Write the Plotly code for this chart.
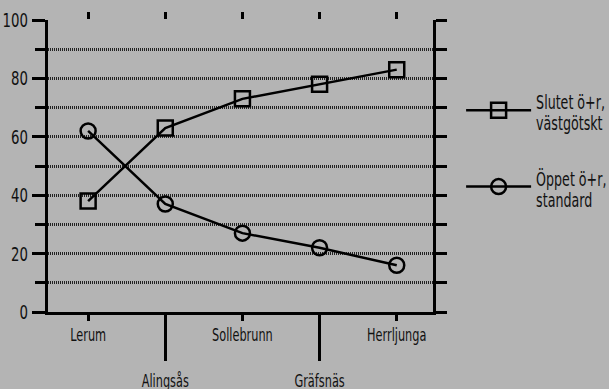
import plotly.graph_objects as go

categories = ["Lerum", "Alingsås", "Sollebrunn", "Gräfsnäs", "Herrljunga"]
slutet = [38, 63, 73, 78, 83]
oppet = [62, 37, 27, 22, 16]
series_names = ["Slutet ö+r,<br>västgötskt", "Öppet ö+r,<br>standard"]
y_ticks = [0, 20, 40, 60, 80, 100]

FONT = "DejaVu Sans Condensed, sans-serif"
BG = "#b4b4b4"
xs = list(range(len(categories)))

fig = go.Figure()
fig.add_trace(go.Scatter(x=xs, y=slutet, name=series_names[0], mode="lines+markers",
                         line=dict(color="black", width=2.5), legendgroup="a",
                         marker=dict(symbol="square-open", size=15, color="black",
                                     line=dict(width=2.5, color="black"))))
fig.add_trace(go.Scatter(x=xs, y=oppet, name=series_names[1], mode="lines+markers",
                         line=dict(color="black", width=2.5), legendgroup="b",
                         marker=dict(symbol="circle-open", size=15, color="black",
                                     line=dict(width=2.5, color="black"))))
fig.add_trace(go.Scatter(x=xs, y=slutet, xaxis="x2", yaxis="y2", mode="markers",
                         marker=dict(opacity=0), showlegend=False, hoverinfo="skip"))
fig.add_trace(go.Scatter(x=xs, y=slutet, xaxis="x3", mode="markers",
                         marker=dict(opacity=0), showlegend=False, hoverinfo="skip"))

xr = [-0.52, 4.47]
even = [i for i in xs if i % 2 == 0]
odd = [i for i in xs if i % 2 == 1]

fig.update_layout(
    width=609, height=389,
    paper_bgcolor=BG, plot_bgcolor=BG,
    margin=dict(l=48, r=176, t=20, b=77, autoexpand=False),
    font=dict(family=FONT, size=17, color="#111"),
    showlegend=True,
    legend=dict(x=1.073, y=0.798, xanchor="left", yanchor="top",
                bgcolor="rgba(0,0,0,0)", traceorder="grouped", tracegroupgap=24,
                font=dict(family=FONT, size=19, color="#111"), itemwidth=65),
    xaxis=dict(range=xr, tickvals=even, ticktext=[categories[i] for i in even], automargin=False,
               showgrid=False, zeroline=False, showline=True, linecolor="black",
               linewidth=3, ticks="outside", ticklen=6, tickwidth=2.5, tickcolor="black"),
    xaxis3=dict(range=xr, overlaying="x", side="bottom", tickvals=odd, automargin=False,
                ticktext=[categories[i] for i in odd], showgrid=False, zeroline=False,
                showline=False, ticks="outside", ticklen=48, tickwidth=3, tickcolor="black",
                ticklabelstandoff=6),
    xaxis2=dict(range=xr, overlaying="x", side="top", tickvals=xs, showticklabels=False,
                automargin=False,
                showgrid=False, zeroline=False, showline=False, ticks="outside",
                ticklen=7, tickwidth=2.5, tickcolor="black"),
    yaxis=dict(range=[0, 100], tickvals=y_ticks, showgrid=True, gridcolor="rgba(0,0,0,0)",
               automargin=False, tickfont=dict(size=20),
               zeroline=False, showline=True, linecolor="black", linewidth=3,
               ticks="outside", ticklen=13, tickwidth=3, tickcolor="black",
               minor=dict(dtick=10, tick0=0, ticks="outside", ticklen=10, tickwidth=3,
                          tickcolor="black", showgrid=True, gridcolor="#222",
                          griddash="1px,1px", gridwidth=2.5)),
    yaxis2=dict(range=[0, 100], overlaying="y", side="right", dtick=10, tick0=0,
                automargin=False,
                showticklabels=False, showgrid=False, zeroline=False, showline=True,
                linecolor="black", linewidth=3, ticks="outside", ticklen=11,
                tickwidth=3, tickcolor="black"),
)

post = """
document.body.style.margin = '0';
document.body.style.background = '#b4b4b4';
function squeezeText() {
  var els = document.querySelectorAll('g[class$="tick"] > text, g[class$="tick"] text, .legendtext tspan.line, text.legendtext');
  els.forEach(function (el) {
    if (el.tagName === 'text' && el.querySelector('tspan.line')) return;
    if (el.getAttribute('lengthAdjust')) return;
    var w = el.getComputedTextLength();
    if (w > 0) {
      el.setAttribute('textLength', (w * 0.74).toFixed(1));
      el.setAttribute('lengthAdjust', 'spacingAndGlyphs');
    }
  });
  document.querySelectorAll('text.legendtext').forEach(function (t) {
    if (t.getAttribute('data-tight')) return;
    t.setAttribute('data-tight', '1');
    var lines = t.querySelectorAll('tspan.line');
    for (var i = 1; i < lines.length; i++) { lines[i].setAttribute('dy', '1.1em'); }
    var y = parseFloat(t.getAttribute('y') || '0');
    t.setAttribute('y', (y + 4).toFixed(1));
    for (var j = 0; j < lines.length; j++) {
      var ly = lines[j].getAttribute('y');
      if (ly !== null && ly !== '') {
        lines[j].setAttribute('y', (parseFloat(ly) + 4).toFixed(1));
      }
    }
  });
}
squeezeText();
setTimeout(squeezeText, 50);
"""
fig.write_html("out.html", post_script=post, config={"displayModeBar": False})
